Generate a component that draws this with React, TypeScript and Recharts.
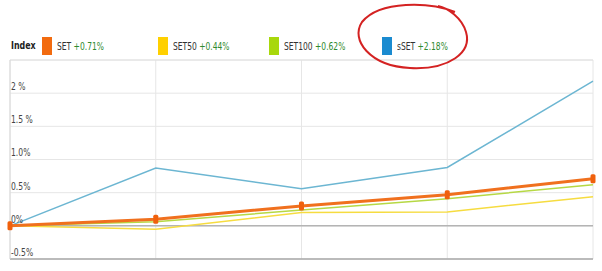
import React from "react";
import {
  LineChart,
  Line,
  XAxis,
  YAxis,
  CartesianGrid,
  ReferenceLine,
} from "recharts";

const days = ["1", "2", "3", "4", "5"];
const setValues = [0, 0.1, 0.3, 0.47, 0.71];
const set50Values = [0, -0.05, 0.2, 0.21, 0.44];
const set100Values = [0, 0.06, 0.24, 0.41, 0.62];
const ssetValues = [0, 0.87, 0.56, 0.88, 2.18];

const yTicks = [-0.5, 0, 0.5, 1, 1.5, 2];
const yTickLabels = ["-0.5%", "0%", "0.5%", "1.0%", "1.5 %", "2 %"];

const legendNames = ["SET", "SET50", "SET100", "sSET"];
const legendChanges = ["+0.71%", "+0.44%", "+0.62%", "+2.18%"];
const legendColors = ["#f26b0f", "#ffd000", "#a8d80c", "#1b8bd0"];

const FONT = "'DejaVu Sans Condensed', 'DejaVu Sans', sans-serif";

const data = days.map((d, i) => ({
  day: d,
  set: setValues[i],
  set50: set50Values[i],
  set100: set100Values[i],
  sset: ssetValues[i],
}));

const legendLeft = [42, 158, 269, 382];

function YTick(props: any) {
  const idx = yTicks.indexOf(props.payload.value);
  return (
    <text
      x={11}
      y={props.y - 3}
      fontSize={10}
      fill="#444"
      fontFamily={FONT}
      textAnchor="start"
      transform={`translate(11 0) scale(0.85 1) translate(-11 0)`}
    >
      {yTickLabels[idx]}
    </text>
  );
}

function SetDot(props: any) {
  const { cx, cy } = props;
  if (cx == null || cy == null) return null;
  return <rect x={cx - 2.5} y={cy - 4.5} width={5} height={9} rx={1.5} fill="#f0600c" />;
}

export default function App() {
  return (
    <div
      style={{
        position: "absolute",
        left: 0,
        top: 0,
        width: 602,
        height: 271,
        background: "#fff",
        fontFamily: FONT,
      }}
    >
      <div
        style={{
          position: "absolute",
          left: 11,
          top: 39,
          fontSize: 11,
          fontWeight: "bold",
          color: "#222",
          transform: "scaleX(0.8)",
          transformOrigin: "left",
        }}
      >
        Index
      </div>
      {legendNames.map((name, i) => (
        <div key={name}>
          <div
            style={{
              position: "absolute",
              left: legendLeft[i],
              top: 37,
              width: 10,
              height: 18,
              background: legendColors[i],
            }}
          />
          <div
            style={{
              position: "absolute",
              left: legendLeft[i] + 15,
              top: 40,
              fontSize: 10.5,
              color: "#333",
              whiteSpace: "nowrap",
              transform: "scaleX(0.8)",
              transformOrigin: "left",
            }}
          >
            {name} <span style={{ color: "#2f8a2f" }}>{legendChanges[i]}</span>
          </div>
        </div>
      ))}

      <div style={{ position: "absolute", left: 0, top: 0 }}>
        <LineChart
          width={602}
          height={271}
          data={data}
          margin={{ top: 60, right: 9, bottom: 12, left: 10 }}
        >
          <CartesianGrid stroke="#e6e6e6" strokeWidth={1} />
          <XAxis dataKey="day" hide />
          <ReferenceLine y={2.5} stroke="#e0e0e0" />
          <ReferenceLine y={0} stroke="#b4b4b4" strokeWidth={1.5} />
          <ReferenceLine y={-0.5} stroke="#a8a8a8" strokeWidth={1.5} />
          <ReferenceLine x="1" stroke="#d8d8d8" />
          <Line
            dataKey="sset"
            stroke="#6cb6d2"
            strokeWidth={1.5}
            dot={false}
            isAnimationActive={false}
          />
          <Line
            dataKey="set50"
            stroke="#f6dc40"
            strokeWidth={1.5}
            dot={false}
            isAnimationActive={false}
          />
          <Line
            dataKey="set100"
            stroke="#b6d844"
            strokeWidth={1.5}
            dot={false}
            isAnimationActive={false}
          />
          <Line
            dataKey="set"
            stroke="#f0701e"
            strokeWidth={3}
            dot={<SetDot />}
            isAnimationActive={false}
          />
          <YAxis
            domain={[-0.5, 2.5]}
            ticks={yTicks}
            width={40}
            mirror
            axisLine={false}
            tickLine={false}
            tick={YTick}
          />
        </LineChart>
      </div>

      <svg
        width={602}
        height={271}
        style={{ position: "absolute", left: 0, top: 0, pointerEvents: "none" }}
      >
        <path
          d="M 455 12 C 430 2, 380 0, 362 22 C 350 40, 370 66, 410 68 C 450 70, 472 52, 466 32 C 462 18, 448 8, 438 6"
          fill="none"
          stroke="#d42222"
          strokeWidth={2}
        />
      </svg>
    </div>
  );
}
